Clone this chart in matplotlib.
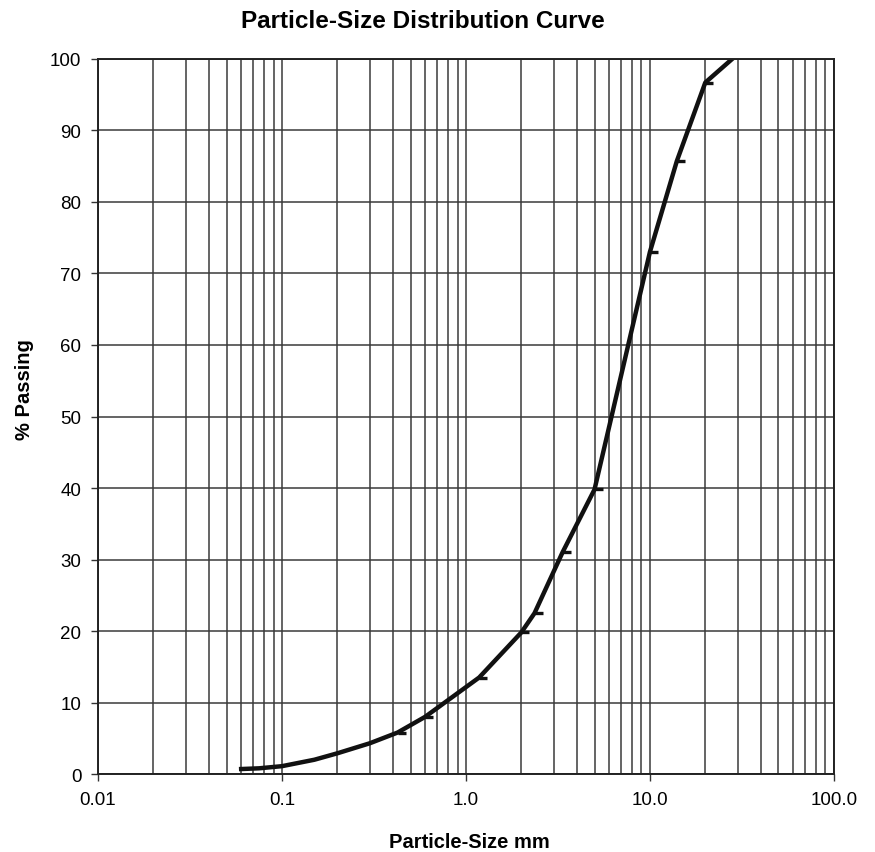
import matplotlib
matplotlib.use("Agg")
import matplotlib.pyplot as plt
from matplotlib.ticker import FixedLocator, LogLocator, NullFormatter

plt.rcParams['font.family'] = ['Liberation Sans', 'DejaVu Sans']

# sieve sizes (mm) and percent passing
sizes = [0.06, 0.075, 0.1, 0.15, 0.2, 0.3, 0.425, 0.6, 1.18, 2.0, 2.36, 3.35, 5.0, 10.0, 14.0, 20.0, 28.0]
passing = [0.7, 0.8, 1.1, 2.0, 2.9, 4.3, 5.8, 8.0, 13.5, 19.8, 22.5, 31.0, 39.8, 73.0, 85.7, 96.7, 100.0]

x_ticks = [0.01, 0.1, 1.0, 10.0, 100.0]
x_labels = ['0.01', '0.1', '1.0', '10.0', '100.0']
y_ticks = list(range(0, 101, 10))

fig = plt.figure(figsize=(8.75, 8.53), dpi=100)
ax = fig.add_axes([0.112, 0.0914, 0.841, 0.8383])

grid_color = '#3a3a3a'
ax.set_xscale('log')
ax.set_xlim(0.01, 100)
ax.set_ylim(0, 100)

ax.xaxis.set_major_locator(FixedLocator(x_ticks))
ax.set_xticklabels(x_labels)
ax.xaxis.set_minor_locator(LogLocator(base=10, subs=range(2, 10), numticks=50))
ax.xaxis.set_minor_formatter(NullFormatter())
ax.set_yticks(y_ticks)

ax.grid(True, which='major', color=grid_color, linewidth=1.1)
ax.grid(True, which='minor', axis='x', color=grid_color, linewidth=1.1)
ax.set_axisbelow(True)

# sieve points shown as short dashes to the right of the curve
ax.plot(sizes, passing, color='#111111', linewidth=3.2,
        marker=1, markersize=6, markeredgewidth=2.4, markevery=list(range(6, 16)))

for s in ax.spines.values():
    s.set_color('#222222')
    s.set_linewidth(1.4)

ax.tick_params(axis='both', which='major', direction='out', length=5, width=1,
               color='#333333', labelsize=13.5, pad=7)
ax.tick_params(axis='x', which='minor', length=0)

fig.text(423 / 875, 1 - 22 / 853, 'Particle-Size Distribution Curve',
         fontsize=17.5, fontweight='bold', ha='center', va='center')
fig.text(469 / 875, 1 - 843 / 853, 'Particle-Size mm',
         fontsize=14.5, fontweight='bold', ha='center', va='center')
fig.text(24 / 875, 1 - 390 / 853, '% Passing', rotation=90,
         fontsize=14.5, fontweight='bold', ha='center', va='center')

fig.savefig('out.png', dpi=100)
